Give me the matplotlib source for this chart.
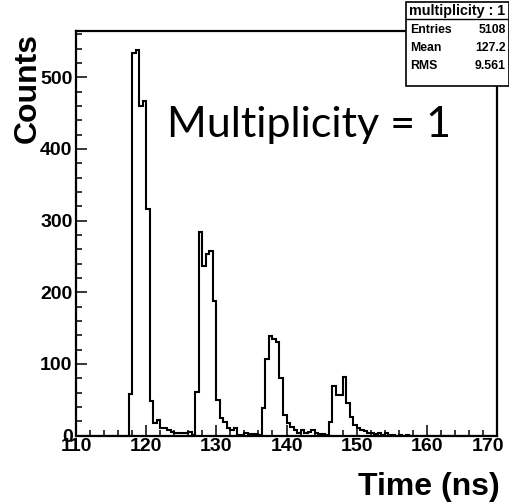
"""Multiplicity = 1 timing histogram (ROOT-style) redrawn with matplotlib."""

import matplotlib

matplotlib.use("Agg")
import matplotlib.pyplot as plt
import matplotlib.transforms as mtransforms
import numpy as np
from matplotlib.ticker import MultipleLocator

# histogram range and bin width (ns)
T_MIN = 110.0
T_MAX = 170.0
BIN_WIDTH = 0.5

# counts per 0.5 ns bin, starting at 110 ns
counts_110_117 = [0] * 15
peak_1 = [58, 534, 538, 460, 467, 316, 48, 18, 22, 10, 10, 7, 5, 4, 4, 3, 3, 5, 1]
peak_2 = [61, 284, 237, 253, 258, 188, 49, 24, 19, 11, 8, 11, 1, 1, 4, 2, 2, 2, 1]
peak_3 = [39, 107, 139, 135, 130, 80, 28, 17, 12, 8, 4, 7, 4, 5, 7, 3, 2, 2, 1]
peak_4 = [19, 69, 57, 57, 81, 45, 26, 14, 10, 8, 6, 4, 3, 2, 3, 1, 3, 1, 1, 0, 1, 0, 1]

stats_labels = ["Entries", "Mean", "RMS"]
stats_values = ["5108", "127.2", "9.561"]

x_ticks = [110, 120, 130, 140, 150, 160, 170]
y_ticks = [0, 100, 200, 300, 400, 500]

W, H = 510, 503


def fx(px):
    return px / W


def fy(py):
    return 1 - py / H


def main():
    counts = np.array(counts_110_117 + peak_1 + peak_2 + peak_3 + peak_4, dtype=float)
    n_bins = int(round((T_MAX - T_MIN) / BIN_WIDTH))
    counts = np.concatenate([counts, np.zeros(n_bins - len(counts))])
    edges = T_MIN + BIN_WIDTH * np.arange(n_bins + 1)

    fig = plt.figure(figsize=(W / 100, H / 100), dpi=100)
    ax = fig.add_axes([fx(76), fy(435.5), fx(497) - fx(76), fy(30.7) - fy(435.5)])

    ax.stairs(counts, edges, color="black", linewidth=1.5)
    ax.set_xlim(T_MIN, T_MAX)
    ax.set_ylim(0, 1.05 * counts.max())

    bold = {"family": "Liberation Sans", "weight": "bold"}
    ax.set_xticks(x_ticks)
    ax.set_yticks(y_ticks)
    ax.set_xticklabels([str(t) for t in x_ticks], fontdict={**bold, "size": 14})
    ax.set_yticklabels([str(t) for t in y_ticks], fontdict={**bold, "size": 14})
    ax.xaxis.set_minor_locator(MultipleLocator(2))
    ax.yaxis.set_minor_locator(MultipleLocator(20))
    ax.tick_params(which="both", direction="in", width=1.1, top=False, right=False)
    ax.tick_params(which="major", length=8)
    ax.tick_params(which="minor", length=4)
    ax.tick_params(axis="x", which="major", pad=1.5)
    ax.tick_params(axis="y", which="major", pad=2.5)
    for spine in ax.spines.values():
        spine.set_linewidth(1.6)

    # ROOT pulls the last x label inside the pad
    last = ax.get_xticklabels()[-1]
    shift = mtransforms.ScaledTranslation(-9 / 100, 0, fig.dpi_scale_trans)
    last.set_transform(last.get_transform() + shift)

    # axis titles, ROOT style (right/top aligned)
    fig.text(fx(500), fy(495), "Time (ns)", ha="right", va="baseline",
             fontsize=23, **bold)
    fig.text(fx(13), fy(33), "Counts", ha="right", va="top", rotation=90,
             rotation_mode="anchor", fontsize=23, **bold)

    fig.text(fx(167), fy(137), "Multiplicity = 1", ha="left", va="baseline",
             fontsize=31, family="Lato")

    # stats box
    box_l, box_r, box_t, box_b = 406, 509, 2, 86
    sep = 19
    fig.patches.append(plt.Rectangle((fx(box_l), fy(box_b)), fx(box_r) - fx(box_l),
                                     fy(box_t) - fy(box_b), transform=fig.transFigure,
                                     facecolor="white", edgecolor="black", linewidth=1.2,
                                     zorder=5))
    fig.lines.append(plt.Line2D([fx(box_l), fx(box_r)], [fy(sep), fy(sep)],
                                transform=fig.transFigure, color="black", linewidth=1.0,
                                zorder=6))
    fig.text(fx((box_l + box_r) / 2), fy(10.5), "multiplicity : 1", ha="center",
             va="center", fontsize=10.3, zorder=7, **bold)
    row_y = [30, 48, 66]
    for label, value, y in zip(stats_labels, stats_values, row_y):
        fig.text(fx(box_l + 4), fy(y), label, ha="left", va="center", fontsize=8.8,
                 zorder=7, **bold)
        fig.text(fx(box_r - 3), fy(y), value, ha="right", va="center", fontsize=8.8,
                 zorder=7, **bold)

    fig.savefig("out.png", dpi=100)
    plt.close(fig)


if __name__ == "__main__":
    main()
